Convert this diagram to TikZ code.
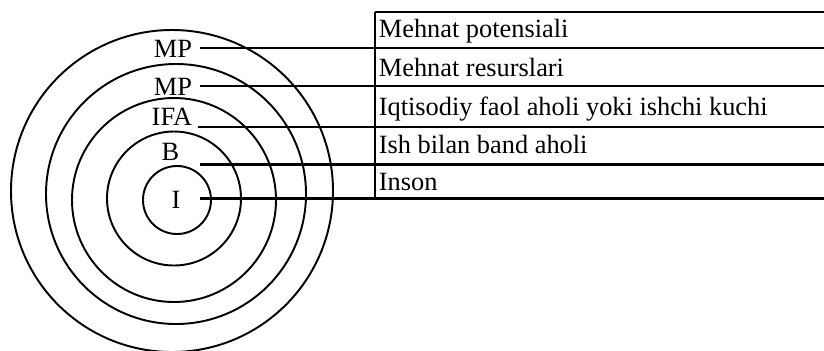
\documentclass[tikz,border=0pt]{standalone}
\usepackage{fontspec}
\setmainfont{Liberation Serif}
\usepackage{tikz}
\usetikzlibrary{positioning,calc}
\tikzset{ring/.style={draw=black,line width=1.1pt},
  rule/.style={draw=black,line width=1.3pt},
  lbl/.style={anchor=base,inner sep=0pt,font=\fontsize{15}{18}\selectfont},
  rowtext/.style={anchor=base west,inner xsep=2pt,inner ysep=0pt,font=\fontsize{15}{18}\selectfont}}

\begin{document}
\begin{tikzpicture}
\useasboundingbox (0,0) rectangle (16.48,7);
% rings
\draw[ring] (3.54,3.0) circle (0.68);
\draw[ring] (3.48,3.03) circle (1.34);
\draw[ring] (3.48,3.0) circle (2.04);
\draw[ring] (3.52,3.12) circle (2.6);
\draw[ring] (3.44,3.18) circle (3.22);
% labels on the rings
\node[lbl] (mpa) at (3.46,5.86) {MP};
\node[lbl] (mpb) at (3.46,5.1) {MP};
\node[lbl] (ifa) at (3.44,4.5) {IFA};
\node[lbl] (band) at (3.41,3.8) {B};
\node[lbl] (inson) at (3.52,2.84) {I};
% table
\coordinate (tl) at (7.5,6.76);
\coordinate (tr) at (16.48,6.76);
\coordinate (s1) at (4.0,6.04);
\coordinate (s2) at (4.0,5.28);
\coordinate (s3) at (3.96,4.46);
\coordinate (s4) at (4.0,3.71);
\coordinate (s5) at (4.0,3.03);
\coordinate (e1) at (16.48,6.04);
\coordinate (e2) at (16.48,5.28);
\coordinate (e3) at (16.48,4.46);
\coordinate (e4) at (16.48,3.71);
\coordinate (e5) at (16.48,3.03);
\draw[rule] (tl) -- (tr);
\draw[rule] (tl) -- (tl |- e5);
\draw[rule] (s1) -- (e1);
\draw[rule] (s2) -- (e2);
\draw[rule] (s3) -- (e3);
\draw[rule] (s4) -- (e4);
\draw[rule] (s5) -- (e5);
\node[rowtext] (t1) at (7.5,6.26) {Mehnat potensiali};
\node[rowtext] (t2) at (7.5,5.48) {Mehnat resurslari};
\node[rowtext] (t3) at (7.5,4.7) {Iqtisodiy faol aholi yoki ishchi kuchi};
\node[rowtext] (t4) at (7.5,3.94) {Ish bilan band aholi};
\node[rowtext] (t5) at (7.5,3.2) {Inson};
\end{tikzpicture}
\end{document}
